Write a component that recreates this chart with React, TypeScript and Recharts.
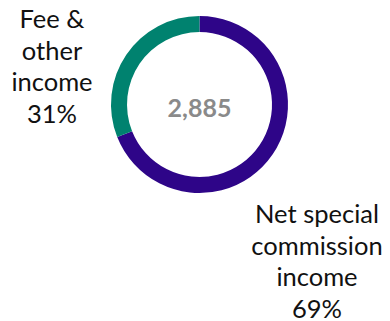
import React from "react";
import { PieChart, Pie, Cell } from "recharts";

const categories = ["Net special commission income", "Fee & other income"];
const labelLines = [
  ["Net special", "commission", "income"],
  ["Fee &", "other", "income"],
];
const shares = [69, 31];
const total = "2,885";
const colors = ["#2E0588", "#00826F"];

const data = categories.map((name, i) => ({ name, value: shares[i] }));

const W = 390;
const H = 321;
const CX = 199.5;
const CY = 104.5;
const FONT = "Lato, 'Open Sans', sans-serif";
const LINE_H = 31.5;
const labelOffsets = [
  { dx: 117.5, dy: 118.5 },
  { dx: -147.5, dy: -76.5 },
];

const renderLabel = (props: any) => {
  const { index } = props;
  const off = labelOffsets[index];
  const x = CX + off.dx;
  const y0 = CY + off.dy;
  const lines = [...labelLines[index], `${shares[index]}%`];
  return (
    <text
      key={`lbl-${index}`}
      x={x}
      y={y0}
      textAnchor="middle"
      fill="#111"
      fontSize={25.5}
      fontFamily={FONT}
    >
      {lines.map((l, i) => (
        <tspan key={i} x={x} y={y0 + i * LINE_H}>
          {l}
        </tspan>
      ))}
    </text>
  );
};

export default function App() {
  return (
    <div style={{ position: "absolute", left: 0, top: 0, width: W, height: H, background: "#fff" }}>
      <PieChart width={W} height={H} margin={{ top: 0, right: 0, bottom: 0, left: 0 }}>
        <Pie
          data={data}
          dataKey="value"
          nameKey="name"
          cx={CX}
          cy={CY}
          innerRadius={72.5}
          outerRadius={88.5}
          startAngle={90}
          endAngle={-270}
          stroke="none"
          label={renderLabel}
          labelLine={false}
          isAnimationActive={false}
        >
          {data.map((d, i) => (
            <Cell key={d.name} fill={colors[i]} />
          ))}
        </Pie>
        <text
          x={CX}
          y={CY + 2}
          textAnchor="middle"
          dominantBaseline="central"
          fill="#8A8A8A"
          fontSize={25}
          fontWeight={700}
          fontFamily={FONT}
        >
          {total}
        </text>
      </PieChart>
    </div>
  );
}
